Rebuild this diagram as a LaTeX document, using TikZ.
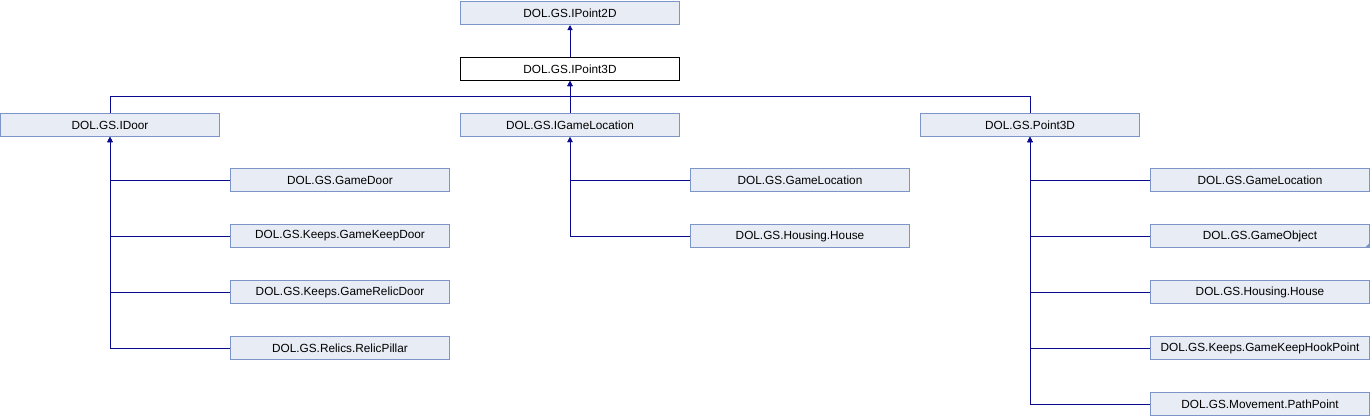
\documentclass[tikz,border=0pt]{standalone}
\usepackage{fontspec}
\setmainfont{Liberation Sans}
\usetikzlibrary{arrows.meta}
\definecolor{boxfill}{RGB}{232,236,244}
\definecolor{boxline}{RGB}{125,148,200}
\definecolor{conn}{RGB}{10,10,145}
\begin{document}
\begin{tikzpicture}[x=1pt,y=-1pt,
  cls/.style={draw=boxline,fill=boxfill,line width=1pt,minimum width=219pt,minimum height=23pt,inner sep=0pt,font=\fontsize{11.8}{12}\selectfont},
  cur/.style={cls,draw=black,fill=white},
  link/.style={draw=conn,line width=1pt},
  inh/.style={link,-{Triangle[length=5pt,width=5pt]}}]
\useasboundingbox (0,0) rectangle (1370,416);
\fill[white] (0,0) rectangle (1370,416);
% top
\node[cls] (p2) at (570,13) {DOL.GS.IPoint2D};
\node[cur] (p3) at (570,69) {DOL.GS.IPoint3D};
% row 1
\node[cls] (door) at (110,125) {DOL.GS.IDoor};
\node[cls] (gloc) at (570,125) {DOL.GS.IGameLocation};
\node[cls] (pt3) at (1030,125) {DOL.GS.Point3D};
% IDoor children
\node[cls] (d1) at (340,180) {DOL.GS.GameDoor};
\node[cls] (d2) at (340,236) {DOL.GS.Keeps.GameKeepDoor};
\node[cls] (d3) at (340,292) {DOL.GS.Keeps.GameRelicDoor};
\node[cls] (d4) at (340,348) {DOL.GS.Relics.RelicPillar};
% IGameLocation children
\node[cls] (g1) at (800,180) {DOL.GS.GameLocation};
\node[cls] (g2) at (800,236) {DOL.GS.Housing.House};
% Point3D children
\node[cls] (q1) at (1260,180) {DOL.GS.GameLocation};
\node[cls] (q2) at (1260,236) {DOL.GS.GameObject};
\node[cls] (q3) at (1260,292) {DOL.GS.Housing.House};
\node[cls] (q4) at (1260,348) {DOL.GS.Keeps.GameKeepHookPoint};
\node[cls] (q5) at (1260,404) {DOL.GS.Movement.PathPoint};
\fill[boxline] ([shift={(-0.5,-0.5)}]q2.south east) -- ++(-4.5,0) -- ++(4.5,-4.5) -- cycle;
% connectors
\draw[inh] (p3.north) -- (p2.south);
\coordinate (bus) at (570,96);
\draw[inh] (door.north) |- (bus) -- (p3.south);
\draw[inh] (pt3.north) |- (bus) -- (p3.south);
\draw[inh] (gloc.north) -- (p3.south);
\foreach \c in {d1,d2,d3,d4} \draw[inh] (\c.west) -| (door.south);
\foreach \c in {g1,g2} \draw[inh] (\c.west) -| (gloc.south);
\foreach \c in {q1,q2,q3,q4,q5} \draw[inh] (\c.west) -| (pt3.south);
\end{tikzpicture}
\end{document}
